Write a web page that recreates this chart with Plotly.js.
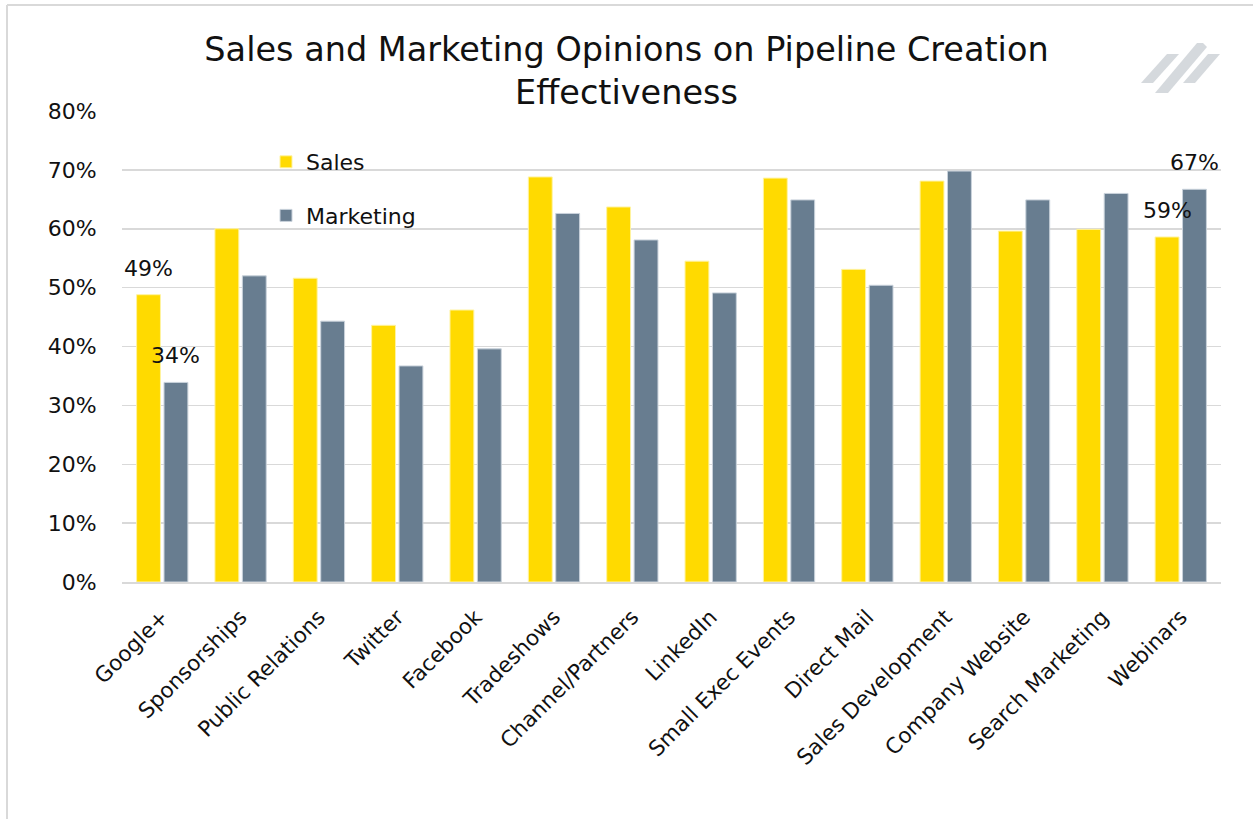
<!DOCTYPE html>
<html>
<head>
<meta charset="utf-8">
<script src="https://cdn.plot.ly/plotly-3.0.1.min.js"></script>
<style>
  html, body { margin: 0; padding: 0; background: #fff; }
  #chart { width: 1253px; height: 819px; }
</style>
</head>
<body>
<div id="chart"></div>
<script>
// ---- data ----
const categories = ["Google+", "Sponsorships", "Public Relations", "Twitter", "Facebook",
  "Tradeshows", "Channel/Partners", "LinkedIn", "Small Exec Events", "Direct Mail",
  "Sales Development", "Company Website", "Search Marketing", "Webinars"];
const salesValues = [48.8, 60, 51.6, 43.6, 46.2, 68.8, 63.7, 54.5, 68.6, 53.1, 68.1, 59.6, 59.9, 58.6];
const marketingValues = [33.9, 52, 44.3, 36.7, 39.6, 62.6, 58.1, 49.1, 64.9, 50.4, 69.8, 64.9, 66, 66.7];
const yTickValues = [0, 10, 20, 30, 40, 50, 60, 70, 80];
const yTickLabels = ["0%", "10%", "20%", "30%", "40%", "50%", "60%", "70%", "80%"];
const labelledIndices = [0, 13];

const FONT = "DejaVu Sans, Verdana, sans-serif";
const FS = 22;
const W = 1253, H = 819;
const M = { l: 122, r: 32, t: 111, b: 237 };
const PW = W - M.l - M.r, PH = H - M.t - M.b;
const px = x => (x - M.l) / PW;
const py = y => (H - M.b - y) / PH;

const traces = [
  { type: "bar", name: "Sales", x: categories, y: salesValues, legendgroup: "s",
    marker: { color: "#FFDA00", line: { color: "#FFF3A0", width: 1 } }, hoverinfo: "x+y" },
  { type: "bar", name: "Marketing", x: categories, y: marketingValues, legendgroup: "m",
    marker: { color: "#687D90", line: { color: "#C9D2DB", width: 1 } }, hoverinfo: "x+y" }
];

const slot = PW / categories.length * 0.7 / 2;
const annotations = [];
labelledIndices.forEach(i => {
  annotations.push({ x: categories[i], y: salesValues[i], xref: "x", yref: "y",
    text: Math.round(salesValues[i]) + "%", showarrow: false, xshift: -slot / 2,
    yanchor: "bottom", yshift: 12, font: { family: FONT, size: FS, color: "#111" } });
  annotations.push({ x: categories[i], y: marketingValues[i], xref: "x", yref: "y",
    text: Math.round(marketingValues[i]) + "%", showarrow: false, xshift: slot / 2,
    yanchor: "bottom", yshift: 12, font: { family: FONT, size: FS, color: "#111" } });
});

function path(points) {
  return "M" + points.map(p => px(p[0]) + "," + py(p[1])).join(" L") + " Z";
}
const logoColor = "#D5D9DD";
const shapes = [
  // frame
  { type: "line", xref: "paper", yref: "paper", x0: px(7), x1: px(7), y0: py(5), y1: py(830),
    line: { color: "#D9D9D9", width: 2 } },
  { type: "line", xref: "paper", yref: "paper", x0: px(7), x1: px(1260), y0: py(5), y1: py(5),
    line: { color: "#D9D9D9", width: 2 } },
  // logo
  { type: "path", xref: "paper", yref: "paper", path: path([[1141, 83], [1153, 83], [1179, 54], [1167, 54]]),
    fillcolor: logoColor, line: { width: 0 } },
  { type: "path", xref: "paper", yref: "paper", path: path([[1155, 93], [1168, 93], [1207, 47], [1203, 43], [1197, 43]]),
    fillcolor: logoColor, line: { width: 0 } },
  { type: "path", xref: "paper", yref: "paper", path: path([[1183, 83], [1195, 83], [1220, 54], [1208, 54]]),
    fillcolor: logoColor, line: { width: 0 } }
];

const layout = {
  width: W, height: H,
  margin: M,
  paper_bgcolor: "#fff", plot_bgcolor: "#fff",
  font: { family: FONT, color: "#111", size: FS },
  title: { text: "Sales and Marketing Opinions on Pipeline Creation<br>Effectiveness",
    x: 0.5, xref: "container", xanchor: "center", y: 0.926, yref: "container", yanchor: "top",
    font: { family: FONT, size: 33.5, color: "#111" } },
  barmode: "group", bargap: 0.3, bargroupgap: 0.13,
  xaxis: { type: "category", tickangle: -45, ticks: "outside", ticklen: 12, tickcolor: "rgba(0,0,0,0)",
    showline: true, linecolor: "#D9D9D9", linewidth: 2, showgrid: false,
    tickfont: { family: FONT, size: 21.5, color: "#111" }, fixedrange: true },
  yaxis: { range: [0, 80], tickvals: yTickValues, ticktext: yTickLabels, showgrid: true,
    gridcolor: "#D9D9D9", gridwidth: 1.5, zeroline: false, showline: false,
    ticks: "outside", ticklen: 20, tickcolor: "rgba(0,0,0,0)",
    tickfont: { family: FONT, size: FS, color: "#111" }, fixedrange: true },
  legend: { x: px(266), y: py(141), xanchor: "left", yanchor: "top", orientation: "v",
    traceorder: "grouped", tracegroupgap: 22, bgcolor: "rgba(0,0,0,0)",
    font: { family: FONT, size: FS, color: "#111" }, itemwidth: 30 },
  annotations: annotations,
  shapes: shapes
};

Plotly.newPlot("chart", traces, layout, { displayModeBar: false, staticPlot: true });
</script>
</body>
</html>
